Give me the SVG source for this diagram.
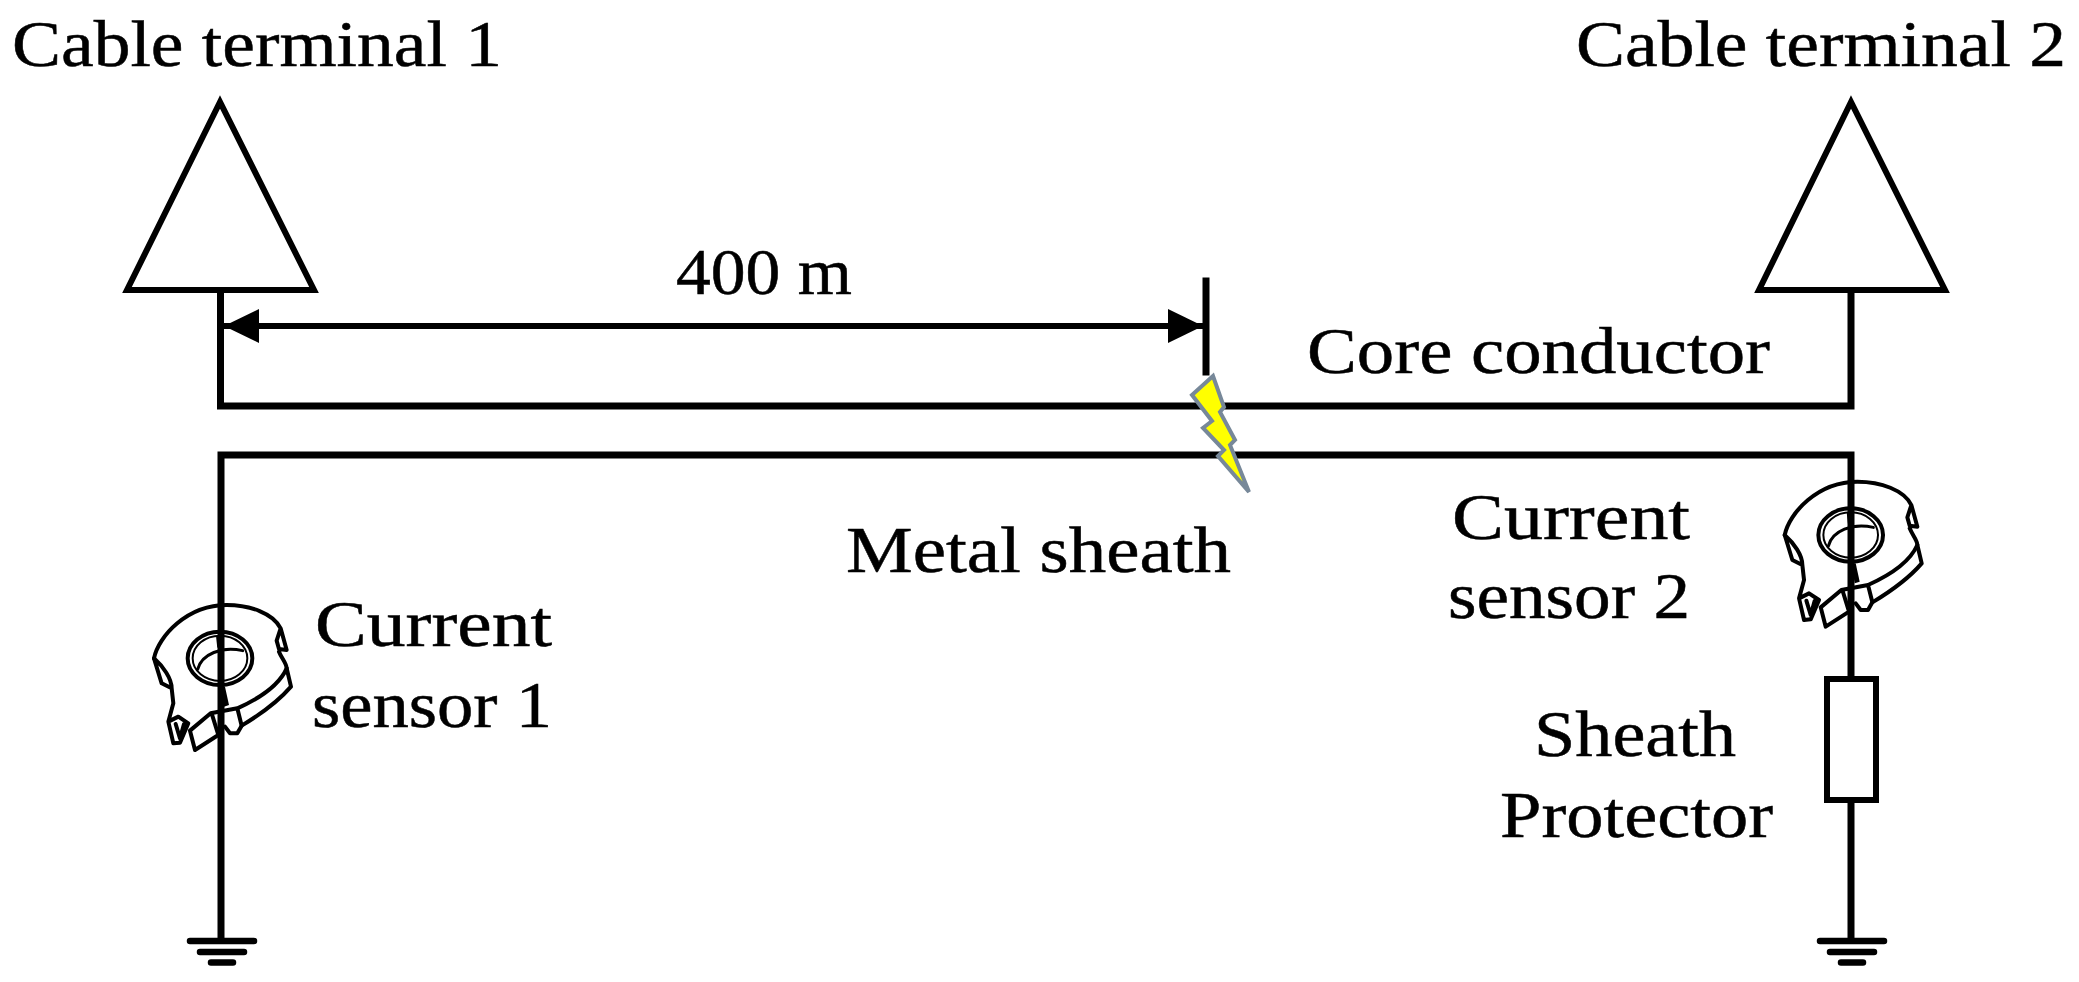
<svg xmlns="http://www.w3.org/2000/svg" width="2079" height="982" viewBox="0 0 2079 982">
<style>
.w{fill:none;stroke:#000;stroke-width:7;stroke-linecap:square;stroke-linejoin:miter}
.n{fill:#fff;stroke:#000;stroke-width:6;stroke-linejoin:miter}
.t{font-family:"Liberation Serif","Times New Roman",serif;font-size:66px;fill:#000;stroke:#000;stroke-width:.5}
.g{fill:none;stroke:#000;stroke-width:6.5;stroke-linecap:round}
.s{fill:none;stroke:#000;stroke-width:12;stroke-linejoin:round;stroke-linecap:round}
</style>
<defs>
<marker id="ah" markerUnits="userSpaceOnUse" markerWidth="36" markerHeight="34" refX="35" refY="17" orient="auto-start-reverse"><path d="M0,0L35,17L0,34Z" fill="#000"/></marker>
<g id="sensor" transform="translate(130,580) scale(.3333)">
<path class="s" d="M72,235C85,170 170,75 290,75C360,75 430,100 452,145L440,182L447,207L470,210L452,145M447,215C455,235 470,250 470,265L483,320C440,370 380,410 335,437L322,460L300,460L285,440"/>
<path class="s" d="M72,235L95,310L125,325C125,295 100,260 72,235M125,325L130,370L115,425L145,410L175,430L150,488L130,490L115,425M137,432L150,475L162,432"/>
<path class="s" d="M180,452L242,400L322,385L335,437M180,452L195,510L265,465L245,400M322,385C400,350 450,310 470,265"/>
<ellipse class="s" cx="270" cy="235" rx="97" ry="80"/>
<ellipse class="s" style="stroke-width:6" cx="270" cy="235" rx="82" ry="68"/>
<path class="s" style="stroke-width:9" d="M203,268C215,222 275,198 338,212M263,172L266,200"/>
<path d="M285,320L297,375L282,380L272,320Z" fill="#000"/>
</g>
</defs>
<g id="connectors">
<path class="w" d="M220.500,294V406H1851V294"/>
<path class="w" d="M1851,937V455H221V937"/>
<path class="w" d="M1206,281V372"/>
<path d="M224,326H1203" fill="none" stroke="#000" stroke-width="6" marker-start="url(#ah)" marker-end="url(#ah)"/>
</g>
<g id="terminal-1"><path class="n" d="M220,102L127,290H314Z"/><text class="t" x="12" y="66" textLength="490" lengthAdjust="spacingAndGlyphs">Cable terminal 1</text></g>
<g id="terminal-2"><path class="n" d="M1851,102L1759,290H1945Z"/><text class="t" x="1576" y="66" textLength="490" lengthAdjust="spacingAndGlyphs">Cable terminal 2</text></g>
<g id="distance"><text class="t" x="676" y="294" textLength="176" lengthAdjust="spacingAndGlyphs">400 m</text></g>
<g id="core-conductor"><text class="t" x="1307" y="373" textLength="463" lengthAdjust="spacingAndGlyphs">Core conductor</text></g>
<g id="metal-sheath"><text class="t" x="846" y="572" textLength="385" lengthAdjust="spacingAndGlyphs">Metal sheath</text></g>
<g id="fault"><path d="M1213,376L1224,407L1220,412L1235,440L1230,445L1249,492L1218,456L1224,450L1203,428L1212,421L1192,395Z" fill="#ff0" stroke="#778899" stroke-width="4"/></g>
<g id="sensor-1"><use href="#sensor"/><text class="t" x="315" y="646" textLength="237" lengthAdjust="spacingAndGlyphs">Current</text><text class="t" x="312" y="727" textLength="240" lengthAdjust="spacingAndGlyphs">sensor 1</text></g>
<g id="sensor-2"><use href="#sensor" x="1630.7" y="-123.3"/><text class="t" x="1452" y="539" textLength="238" lengthAdjust="spacingAndGlyphs">Current</text><text class="t" x="1448" y="618" textLength="242" lengthAdjust="spacingAndGlyphs">sensor 2</text></g>
<g id="sheath-protector"><rect class="n" x="1827" y="679" width="49" height="121"/><text class="t" x="1534" y="756" textLength="202" lengthAdjust="spacingAndGlyphs">Sheath</text><text class="t" x="1500" y="837" textLength="273" lengthAdjust="spacingAndGlyphs">Protector</text></g>
<g id="ground-1"><path class="g" d="M190,941H254M200,952H244M211,962.500H233"/></g>
<g id="ground-2"><path class="g" d="M1820,941H1884M1830,952H1874M1841,962.500H1863"/></g>
</svg>
